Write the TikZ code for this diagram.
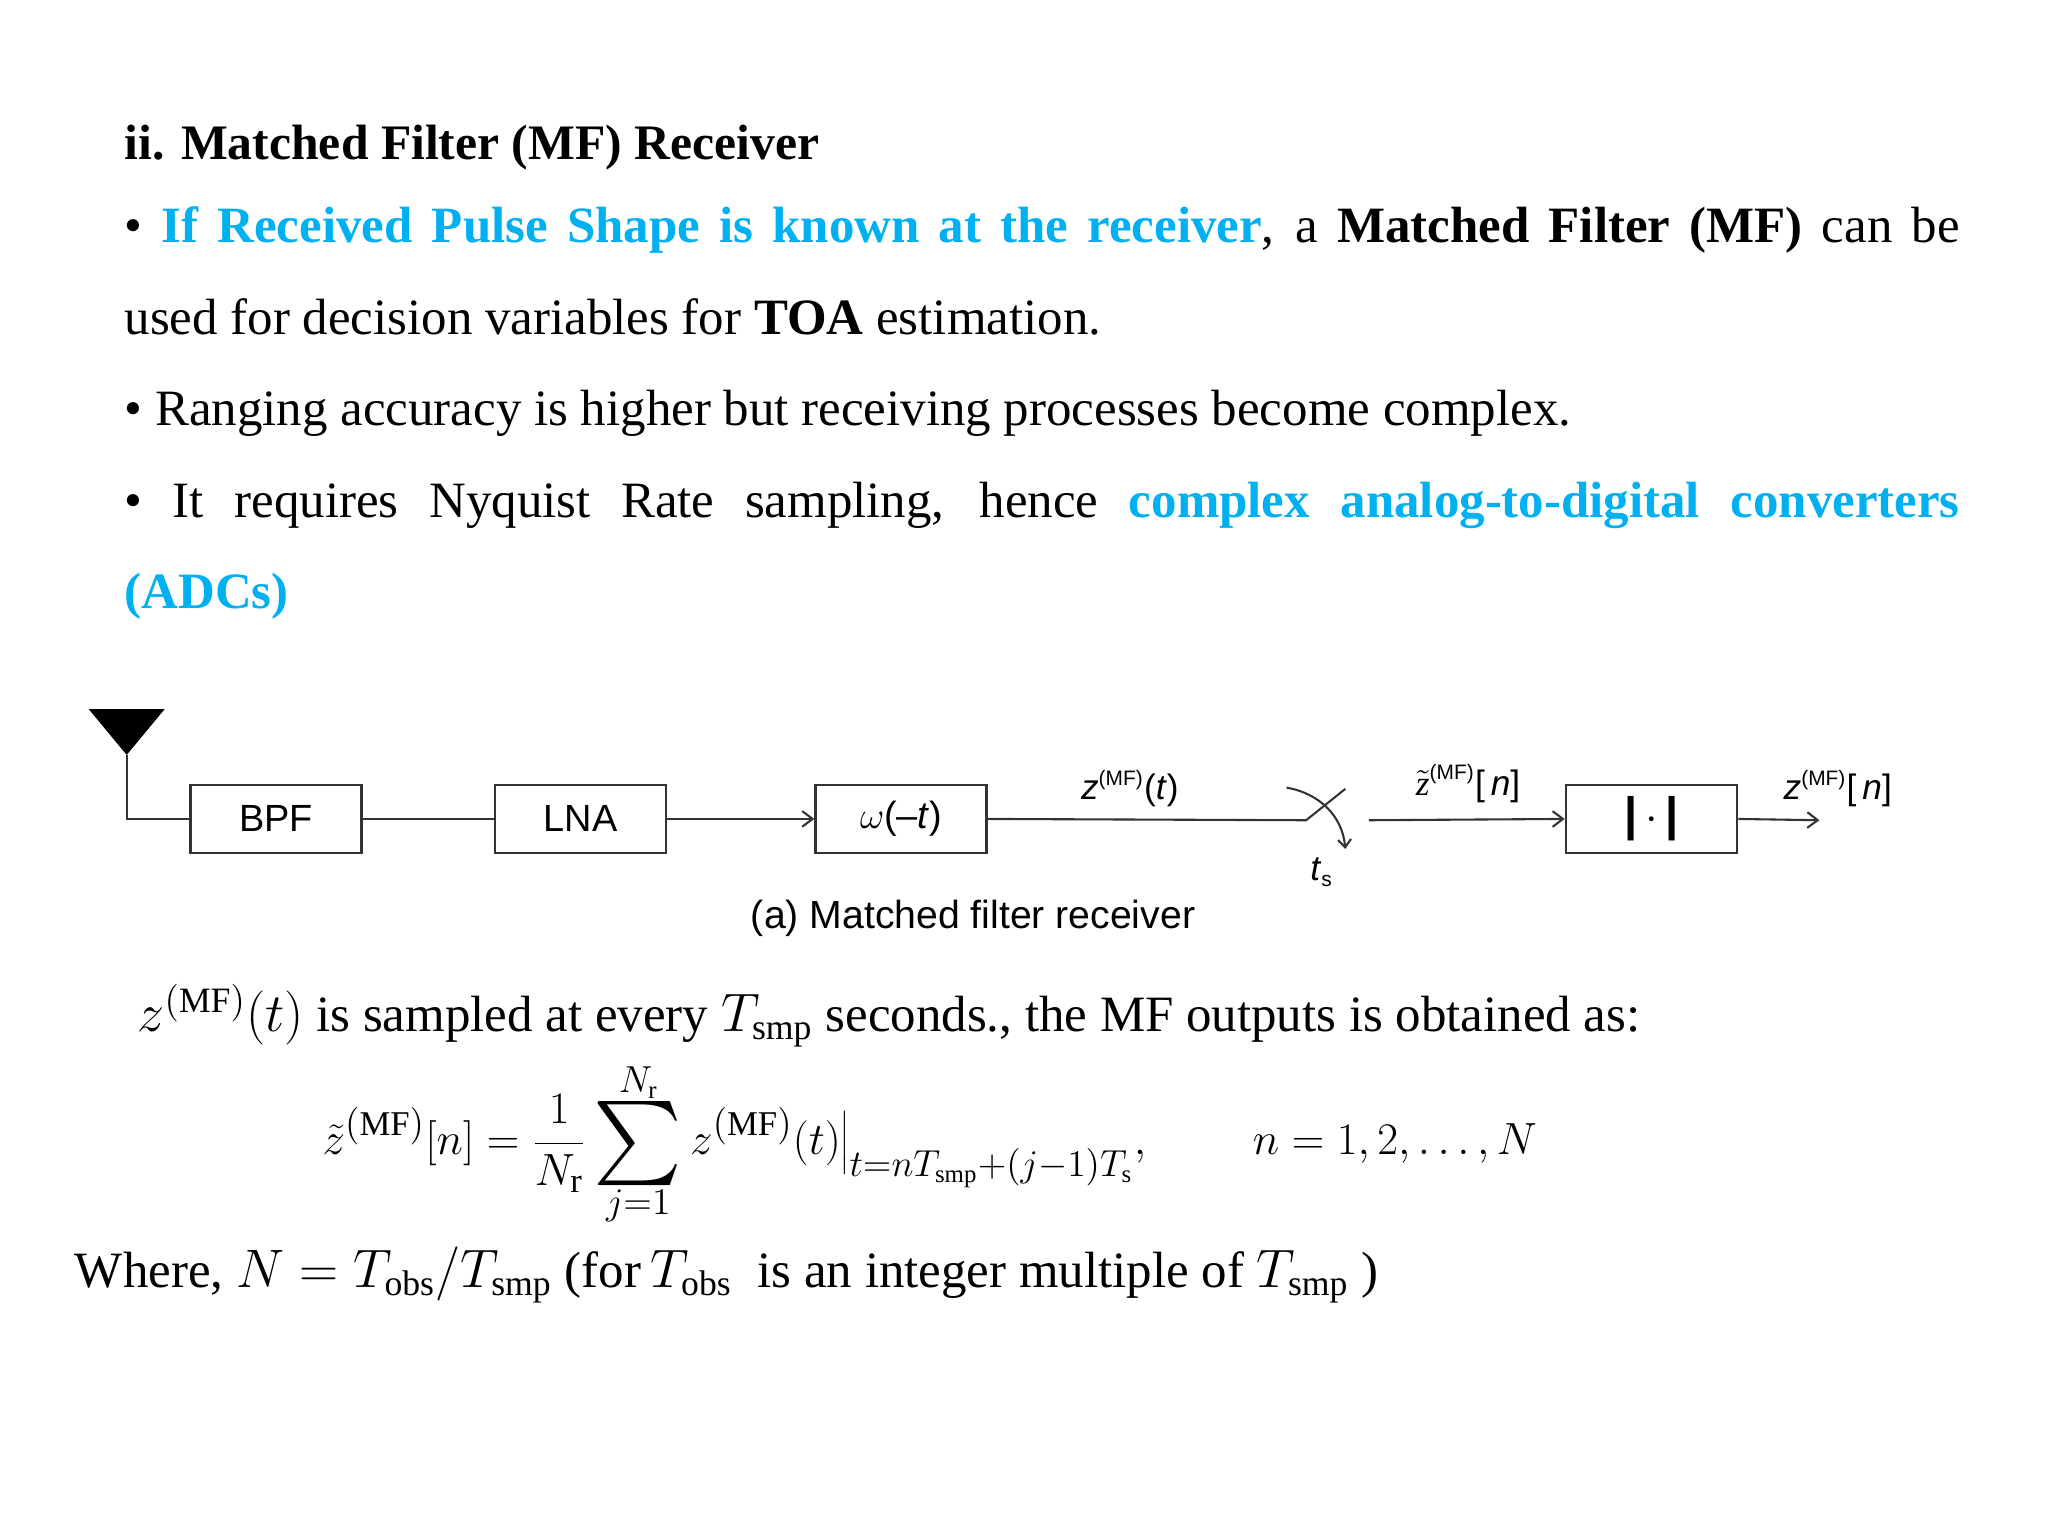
\documentclass[tikz,border=0pt]{standalone}
\usepackage{fontspec}
\usepackage{graphicx}
\setmainfont{Liberation Serif}
\newfontfamily\diag{Liberation Sans}
\usetikzlibrary{arrows.meta}
\definecolor{hl}{RGB}{0,176,240}
\tikzset{blk/.style={draw=black!80,line width=1pt,minimum width=65.5pt,minimum height=26pt,font=\diag\fontsize{14.5}{16}\selectfont},
wire/.style={line width=0.8pt,black!80},
arr/.style={wire,-{Straight Barb[length=4pt,width=6pt]}},
lab/.style={font=\diag\fontsize{13.5}{15}\selectfont}}
\newcommand{\bigsumop}{\mathop{\vcenter{\hbox{\resizebox{!}{30pt}{$\sum$}}}}\limits}
\begin{document}
\begin{tikzpicture}[x=0.5pt,y=-0.5pt]
\useasboundingbox (0,0) rectangle (1568,1176);
\fill[white] (0,0) rectangle (1568,1176);
\node[anchor=base west,inner sep=0,font=\bfseries\fontsize{19}{20}\selectfont] (title) at (95,122) {ii. Matched Filter (MF) Receiver};
\node[anchor=north west,inner sep=0,font=\fontsize{19.5}{35}\selectfont,text width=702.5pt,align=justify] (p1) at (95,158)
{\textbullet\ \textcolor{hl}{\bfseries If Received Pulse Shape is known at the receiver}, a \textbf{Matched Filter (MF)} can be\linebreak used for decision variables for \textbf{TOA} estimation.\par
\textbullet\ Ranging accuracy is higher but receiving processes become complex.\par
\textbullet\ It requires Nyquist Rate sampling, hence \textcolor{hl}{\bfseries complex analog-to-digital converters}\linebreak \textcolor{hl}{\bfseries (ADCs)}\par};
% diagram
\fill[black] (68,543) -- (126,543) -- (97,578) -- cycle;
\node[blk] (bpf) at (211.5,627) {BPF};
\node[blk] (lna) at (444.5,627) {LNA};
\node[blk] (mf) at (690,627) {$\omega$(\textendash\emph{t})};
\node[blk] (abs) at (1264.5,627) {\bfseries\fontsize{18}{18}\selectfont |\,$\cdot$\,|};
\coordinate (ant) at (97,578);
\coordinate (sw) at (1000,628);
\coordinate (sw2) at (1048,628);
\coordinate (out) at (1393,628);
\draw[wire] (ant) |- (bpf.west);
\draw[wire] (bpf) -- (lna);
\draw[arr] (lna) -- (mf);
\draw[wire] (mf.east) -- (sw) -- (1030,604);
\draw[wire,-{Straight Barb[length=3pt,width=5pt]}] (985,603) to[out=-10,in=95] (1030,650);
\draw[arr] (sw2) -- (abs.west);
\draw[arr] (abs.east) -- (out);
\node[lab] (l1) at (865,604) {\emph{z}$^{\textrm{\diag\footnotesize(MF)}}$(\emph{t})};
\node[lab] (l2) at (1012,668) {\emph{t}$_{\textrm{\diag\footnotesize s}}$};
\node[lab] (l3) at (1124,600) {$\tilde{\textrm{\emph{z}}}^{\textrm{\diag\footnotesize(MF)}}$[\,\emph{n}]};
\node[lab] (l4) at (1407,604) {\emph{z}$^{\textrm{\diag\footnotesize(MF)}}$[\,\emph{n}]};
\node[font=\diag\fontsize{15}{16}\selectfont] (cap) at (745,703) {(a) Matched filter receiver};
% text
\node[anchor=base west,inner sep=0,font=\fontsize{19.5}{20}\selectfont] (t1) at (105,790) {$z^{(\mathrm{MF})}(t)$ is sampled at every $T_{\mathrm{smp}}$ seconds., the MF outputs is obtained as:};
\node[inner sep=0,font=\fontsize{19}{22}\selectfont] (eq) at (712,876) {$\displaystyle \tilde{z}^{(\mathrm{MF})}[n]=\frac{1}{N_{\mathrm r}}\bigsumop_{j=1}^{N_{\mathrm r}} z^{(\mathrm{MF})}(t)\bigg|_{t=nT_{\mathrm{smp}}+(j-1)T_{\mathrm s}},\qquad n=1,2,\ldots,N$};
\node[anchor=base west,inner sep=0,font=\fontsize{19.5}{20}\selectfont] (t2) at (57,986) {Where, $N=T_{\mathrm{obs}}/T_{\mathrm{smp}}$ (for$\,T_{\mathrm{obs}}$\ \ is an integer multiple of $T_{\mathrm{smp}}$ )};
\end{tikzpicture}
\end{document}
